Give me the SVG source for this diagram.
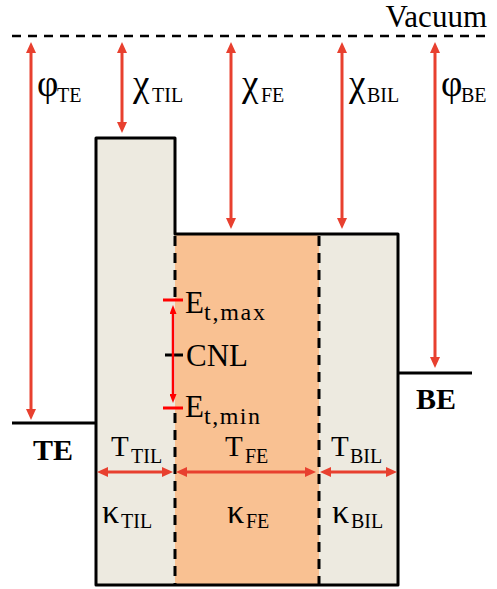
<svg xmlns="http://www.w3.org/2000/svg" width="497" height="589" viewBox="0 0 497 589">
<defs>
<style>
.m{font-family:"Liberation Serif","Times New Roman",serif;font-size:29px;fill:#000}
.g{font-size:37px}
.k{font-size:34px}
.s{font-size:20px}
.e{font-size:31px}
.b{font-family:"Liberation Serif","Times New Roman",serif;font-size:30px;font-weight:bold;fill:#000}
.arr{stroke:#E8402F;stroke-width:3;fill:none;marker-start:url(#ah);marker-end:url(#ah)}
.arr2{stroke:#FF0000;stroke-width:2.5;fill:none;marker-start:url(#ah2);marker-end:url(#ah2)}
.lvl{stroke:#000;stroke-width:3;fill:none}
.dash{stroke:#000;stroke-width:3;stroke-dasharray:10 7;fill:none}
.tick{stroke-width:3;fill:none}
</style>
<marker id="ah" viewBox="0 0 11 10" markerWidth="11" markerHeight="10" refX="4" refY="5" markerUnits="userSpaceOnUse" orient="auto-start-reverse">
<path d="M0,0 L11,5 L0,10 z" fill="#E8402F"/>
</marker>
<marker id="ah2" viewBox="0 0 9 7" markerWidth="9" markerHeight="7" refX="3" refY="3.5" markerUnits="userSpaceOnUse" orient="auto-start-reverse">
<path d="M0,0 L9,3.5 L0,7 z" fill="#FF0000"/>
</marker>
</defs>
<rect width="497" height="589" fill="#fff"/>

<g id="vacuum">
<line x1="12" y1="36" x2="488" y2="36" stroke="#000" stroke-width="2.5" stroke-dasharray="9 7"/>
<text class="m" x="487" y="27" text-anchor="end" style="font-size:31px">Vacuum</text>
</g>

<g id="TIL">
<rect x="96" y="138" width="79" height="447" fill="#EDEAE0"/>
</g>
<g id="FE">
<rect x="175" y="234" width="144" height="351" fill="#F9C192"/>
</g>
<g id="BIL">
<rect x="319" y="234" width="79" height="351" fill="#EDEAE0"/>
</g>
<g id="outline">
<path class="lvl" stroke-linejoin="round" d="M96,585 V138 H175 V234 H398 V585 Z"/>
<line class="dash" x1="175" y1="236" x2="175" y2="297"/>
<line class="dash" x1="175" y1="413" x2="175" y2="584"/>
<line class="dash" x1="319" y1="236" x2="319" y2="584"/>
</g>

<g id="TE">
<line class="lvl" x1="12" y1="423" x2="96" y2="423"/>
<text class="b" x="33" y="460">TE</text>
</g>
<g id="BE">
<line class="lvl" x1="398" y1="373" x2="472" y2="373"/>
<text class="b" x="416" y="409">BE</text>
</g>

<g id="levels">
<line class="tick" stroke="#FF0000" x1="163" y1="300" x2="183" y2="300"/>
<line class="tick" stroke="#000" x1="165" y1="355" x2="183" y2="355"/>
<line class="tick" stroke="#FF0000" x1="163" y1="408" x2="183" y2="408"/>
<text class="m e" x="185" y="313">E<tspan x="204" y="320" style="font-size:24px" textLength="61">t,max</tspan></text>
<text class="m e" x="186" y="366">CNL</text>
<text class="m e" x="185" y="417">E<tspan x="204" y="424" style="font-size:24px" textLength="56">t,min</tspan></text>
</g>

<g id="connectors">
<line class="arr" x1="31" y1="49" x2="31" y2="413"/>
<line class="arr" x1="122" y1="49" x2="122" y2="126"/>
<line class="arr" x1="231" y1="49" x2="231" y2="222"/>
<line class="arr" x1="342" y1="49" x2="342" y2="222"/>
<line class="arr" x1="435" y1="49" x2="435" y2="361"/>
<line class="arr" x1="104" y1="472" x2="166" y2="472"/>
<line class="arr" x1="183" y1="472" x2="309" y2="472"/>
<line class="arr" x1="327" y1="472" x2="390" y2="472"/>
<line class="arr2" x1="173" y1="311" x2="173" y2="397"/>
</g>

<g id="labels">
<text class="m" x="37" y="96"><tspan class="g">φ</tspan><tspan class="s" x="57" y="102">TE</tspan></text>
<text class="m" x="133" y="96"><tspan class="g">χ</tspan><tspan class="s" x="152" y="102">TIL</tspan></text>
<text class="m" x="242" y="96"><tspan class="g">χ</tspan><tspan class="s" x="261" y="102">FE</tspan></text>
<text class="m" x="349" y="96"><tspan class="g">χ</tspan><tspan class="s" x="367" y="102">BIL</tspan></text>
<text class="m" x="441" y="96"><tspan class="g">φ</tspan><tspan class="s" x="461" y="102">BE</tspan></text>
<text class="m" x="111" y="456">T<tspan class="s" x="131" y="463">TIL</tspan></text>
<text class="m" x="225" y="456">T<tspan class="s" x="245" y="463">FE</tspan></text>
<text class="m" x="331" y="456">T<tspan class="s" x="350" y="463">BIL</tspan></text>
<text class="m" x="102" y="523"><tspan class="k">κ</tspan><tspan class="s" x="121" y="528">TIL</tspan></text>
<text class="m" x="227" y="523"><tspan class="k">κ</tspan><tspan class="s" x="246" y="528">FE</tspan></text>
<text class="m" x="332" y="523"><tspan class="k">κ</tspan><tspan class="s" x="351" y="528">BIL</tspan></text>
</g>
</svg>
